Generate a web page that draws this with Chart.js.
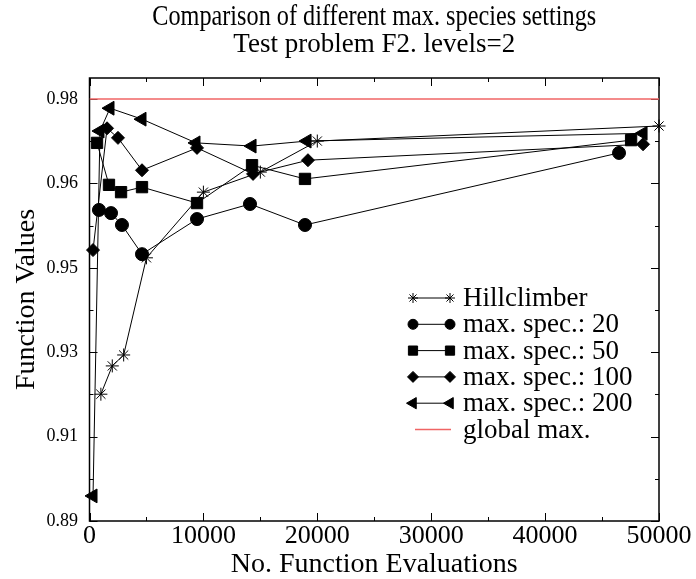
<!DOCTYPE html>
<html>
<head>
<meta charset="utf-8">
<script src="https://cdn.jsdelivr.net/npm/chart.js@4.4.0/dist/chart.umd.min.js"></script>
<style>
  html, body { margin: 0; padding: 0; background: #fff; }
  canvas { display: block; }
</style>
</head>
<body>
<canvas id="speciesChart" width="696" height="579"></canvas>
<script>
// values
const hillX = [1000, 2000, 3000, 5000, 10000, 15000, 20000, 50000];
const hillY = [0.9178, 0.9240, 0.9264, 0.9477, 0.9621, 0.9665, 0.9733, 0.9766];
const spec20X = [830, 1890, 2850, 4610, 9440, 14090, 18920, 46490];
const spec20Y = [0.9582, 0.9575, 0.9549, 0.9485, 0.9562, 0.9595, 0.9549, 0.9707];
const spec50X = [660, 1710, 2770, 4610, 9440, 14270, 18920, 47550];
const spec50Y = [0.9729, 0.9637, 0.9621, 0.9632, 0.9597, 0.9680, 0.9650, 0.9735];
const spec100X = [310, 1540, 2500, 4610, 9440, 14360, 19180, 48600];
const spec100Y = [0.9494, 0.9761, 0.9740, 0.9669, 0.9718, 0.9661, 0.9691, 0.9726];
const spec200X = [310, 920, 1800, 4610, 9350, 14270, 19100, 48600];
const spec200Y = [0.8955, 0.9755, 0.9805, 0.9781, 0.9729, 0.9722, 0.9733, 0.9750];
const globalMaxX = [0, 50000];
const globalMaxY = [0.9825, 0.9825];

const xTickValues = [0, 10000, 20000, 30000, 40000, 50000];
const xTickLabels = ['0', '10000', '20000', '30000', '40000', '50000'];
const yTickValues = [0.89, 0.9085, 0.927, 0.9455, 0.964, 0.9825];
const yTickLabels = ['0.89', '0.91', '0.93', '0.95', '0.96', '0.98'];
const seriesNames = ['Hillclimber', 'max. spec.: 20', 'max. spec.: 50', 'max. spec.: 100', 'max. spec.: 200', 'global max.'];
const chartTitle = 'Comparison of different max. species settings';
const chartSubtitle = 'Test problem F2. levels=2';

const SERIF = "'Liberation Serif', 'Times New Roman', serif";

function pts(xs, ys) {
    return xs.map((x, i) => ({ x: x, y: ys[i] }));
}

function seriesDs(label, xs, ys, style, radius, rotation) {
    return {
        label: label,
        data: pts(xs, ys),
        borderColor: '#000',
        borderWidth: 1,
        backgroundColor: '#000',
        pointStyle: style,
        pointRadius: radius,
        pointHoverRadius: radius,
        pointRotation: rotation || 0,
        pointBackgroundColor: '#000',
        pointBorderColor: '#000',
        pointBorderWidth: 1,
        tension: 0,
        clip: false
    };
}

// main title is set in a narrow (condensed) face in the original
const condensedTitle = {
    id: 'condensedTitle',
    afterDraw(chart) {
        const { ctx, chartArea: a } = chart;
        ctx.save();
        ctx.font = '29px ' + SERIF;
        ctx.fillStyle = '#000';
        ctx.textAlign = 'center';
        ctx.textBaseline = 'alphabetic';
        const w = ctx.measureText(chartTitle).width;
        const sx = 444 / w;
        ctx.translate((a.left + a.right) / 2, 25);
        ctx.scale(sx, 1);
        ctx.fillText(chartTitle, 0, 0);
        ctx.restore();
    }
};

// frame with inward ticks, like the original plot
const framePlugin = {
    id: 'frame',
    beforeDatasetsDraw(chart) {
        const { ctx, chartArea: a, scales: { x, y } } = chart;
        ctx.save();
        ctx.strokeStyle = '#000';
        ctx.lineWidth = 1;
        ctx.beginPath();
        for (let v = 0; v <= 50000; v += 5000) {
            const px = Math.round(x.getPixelForValue(v)) + 0.5;
            const len = v % 10000 === 0 ? 8 : 4;
            ctx.moveTo(px, a.bottom); ctx.lineTo(px, a.bottom - len);
            ctx.moveTo(px, a.top); ctx.lineTo(px, a.top + len);
        }
        const step = yTickValues[1] - yTickValues[0];
        for (let k = 0; k < yTickValues.length * 2; k++) {
            const v = yTickValues[0] + k * step / 2;
            if (v > y.max) break;
            const py = Math.round(y.getPixelForValue(v)) + 0.5;
            const len = k % 2 === 0 ? 8 : 4;
            ctx.moveTo(a.left, py); ctx.lineTo(a.left + len, py);
            ctx.moveTo(a.right, py); ctx.lineTo(a.right - len, py);
        }
        ctx.stroke();
        ctx.lineWidth = 1.5;
        ctx.strokeRect(a.left, a.top, a.right - a.left, a.bottom - a.top);
        ctx.restore();
    }
};

// legend with a marker at both ends of the line sample
const legendPlugin = {
    id: 'pairLegend',
    afterDatasetsDraw(chart) {
        const ctx = chart.ctx;
        const x0 = 413, x1 = 450, tx = 463, top = 298, rowH = 26.3;
        const marks = [
            { style: 'star', r: 5, rot: 0 },
            { style: 'circle', r: 5, rot: 0 },
            { style: 'rect', r: 6.5, rot: 0 },
            { style: 'rectRot', r: 5.5, rot: 0 },
            { style: 'triangle', r: 6.5, rot: -90 }
        ];
        ctx.save();
        ctx.font = '27px ' + SERIF;
        ctx.textBaseline = 'alphabetic';
        ctx.textAlign = 'left';
        chart.data.datasets.forEach((ds, i) => {
            const yy = top + i * rowH;
            ctx.strokeStyle = ds.borderColor;
            ctx.lineWidth = ds.borderWidth;
            ctx.beginPath();
            if (i < marks.length) {
                ctx.moveTo(x0, yy); ctx.lineTo(x1, yy);
            } else {
                ctx.moveTo(x0 + 2, yy); ctx.lineTo(x1 + 1, yy);
            }
            ctx.stroke();
            if (i < marks.length) {
                const m = marks[i];
                ctx.fillStyle = '#000';
                ctx.strokeStyle = '#000';
                ctx.lineWidth = 1;
                [x0, x1].forEach(px => {
                    Chart.helpers.drawPoint(ctx, { pointStyle: m.style, radius: m.r, rotation: m.rot, borderWidth: 1 }, px, yy);
                });
            }
            ctx.fillStyle = '#000';
            ctx.fillText(ds.label, tx, yy + 8);
        });
        ctx.restore();
    }
};

const canvas = document.getElementById('speciesChart');
const ctx = canvas.getContext('2d');

window.speciesChart = new Chart(ctx, {
    type: 'line',
    data: {
        datasets: [
            seriesDs(seriesNames[0], hillX, hillY, 'star', 6.5),
            seriesDs(seriesNames[1], spec20X, spec20Y, 'circle', 6.5),
            seriesDs(seriesNames[2], spec50X, spec50Y, 'rect', 8),
            seriesDs(seriesNames[3], spec100X, spec100Y, 'rectRot', 6.5),
            seriesDs(seriesNames[4], spec200X, spec200Y, 'triangle', 8, -90),
            {
                label: seriesNames[5],
                data: pts(globalMaxX, globalMaxY),
                borderColor: 'rgb(240, 100, 100)',
                borderWidth: 1.5,
                pointRadius: 0,
                tension: 0
            }
        ]
    },
    options: {
        responsive: false,
        animation: false,
        devicePixelRatio: 1,
        layout: { padding: { left: 0, right: 37, top: 0, bottom: 0 } },
        plugins: {
            legend: { display: false },
            tooltip: { enabled: false },
            title: { display: false },
            subtitle: {
                display: true,
                fullSize: false,
                text: chartSubtitle,
                color: '#000',
                font: { family: SERIF, size: 27, weight: 'normal', lineHeight: 1 },
                padding: { top: 31.5, bottom: 19.5 }
            }
        },
        scales: {
            x: {
                type: 'linear',
                min: 0,
                max: 50000,
                afterFit: s => { s.height = 58; },
                afterBuildTicks: s => { s.ticks = xTickValues.map(v => ({ value: v })); },
                grid: { display: false, drawTicks: false },
                border: { display: false },
                ticks: {
                    color: '#000',
                    padding: 0,
                    maxRotation: 0,
                    font: { family: SERIF, size: 26 },
                    callback: (v, i) => xTickLabels[i]
                },
                title: {
                    display: true,
                    text: 'No. Function Evaluations',
                    color: '#000',
                    font: { family: SERIF, size: 28, lineHeight: 1 },
                    padding: { top: 0, bottom: 0 }
                }
            },
            y: {
                type: 'linear',
                min: 0.89,
                max: 0.987125,
                afterFit: s => { s.width = 89.5; },
                afterBuildTicks: s => { s.ticks = yTickValues.map(v => ({ value: v })); },
                grid: { display: false, drawTicks: false },
                border: { display: false },
                ticks: {
                    color: '#000',
                    padding: 11.5,
                    font: { family: SERIF, size: 18 },
                    callback: (v, i) => yTickLabels[i]
                },
                title: {
                    display: true,
                    text: 'Function Values',
                    color: '#000',
                    font: { family: SERIF, size: 28, lineHeight: 1 },
                    padding: { top: 12.5, bottom: 0 }
                }
            }
        }
    },
    plugins: [framePlugin, legendPlugin, condensedTitle]
});
</script>
</body>
</html>
